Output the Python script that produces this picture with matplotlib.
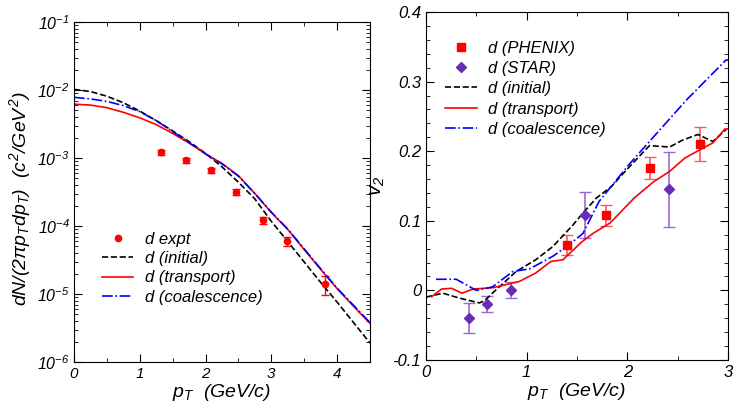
import numpy as np
import matplotlib
matplotlib.use('Agg')
import matplotlib.pyplot as plt
from matplotlib.lines import Line2D
from matplotlib.ticker import MultipleLocator, FuncFormatter, LogLocator

plt.rcParams['font.family'] = ['Liberation Sans', 'DejaVu Sans']
plt.rcParams['font.style'] = 'italic'
plt.rcParams['mathtext.fontset'] = 'custom'
plt.rcParams['mathtext.rm'] = 'Liberation Sans:italic'
plt.rcParams['mathtext.it'] = 'Liberation Sans:italic'
plt.rcParams['mathtext.sf'] = 'Liberation Sans:italic'

# ---------- left panel: spectra ----------
pt_curve = [0, 0.25, 0.5, 0.75, 1.0, 1.25, 1.5, 1.75, 2.0, 2.25, 2.5, 2.75,
            3.0, 3.25, 3.5, 3.75, 4.0, 4.25, 4.5]
sp_initial = [1.02e-2, 9.5e-3, 8.1e-3, 6.5e-3, 4.9e-3, 3.55e-3, 2.5e-3, 1.74e-3,
              1.17e-3, 7.4e-4, 4.4e-4, 2.5e-4, 1.17e-4, 5.9e-5, 2.95e-5,
              1.48e-5, 7.6e-6, 3.8e-6, 1.9e-6]
sp_transport = [6.2e-3, 6.0e-3, 5.5e-3, 4.7e-3, 3.9e-3, 3.1e-3, 2.3e-3, 1.66e-3,
                1.15e-3, 8.3e-4, 5.5e-4, 3.0e-4, 1.58e-4, 8.9e-5, 4.5e-5,
                2.3e-5, 1.2e-5, 6.6e-6, 3.7e-6]
sp_coal = [7.8e-3, 7.4e-3, 6.8e-3, 5.9e-3, 4.8e-3, 3.55e-3, 2.45e-3, 1.68e-3,
           1.15e-3, 8.2e-4, 5.4e-4, 3.0e-4, 1.6e-4, 9.0e-5, 4.6e-5,
           2.35e-5, 1.22e-5, 6.8e-6, 3.8e-6]
pt_expt = [1.32, 1.70, 2.08, 2.47, 2.87, 3.24, 3.82]
sp_expt = [1.22e-3, 9.3e-4, 6.6e-4, 3.2e-4, 1.21e-4, 6.0e-5, 1.39e-5]
sp_expt_err = [1.1e-4, 8e-5, 6e-5, 3e-5, 1.5e-5, 9e-6, 4.2e-6]

# ---------- right panel: v2 ----------
pt_v2_initial = [0.0, 0.166, 0.33, 0.53, 0.58, 0.66, 0.894, 1.09, 1.26, 1.46, 1.57,
                 1.695, 1.84, 2.01, 2.22, 2.42, 2.55, 2.70, 2.85, 2.98]
v2_initial = [-0.0097, -0.004, -0.011, -0.018, -0.015, -0.004, 0.027, 0.044, 0.063,
              0.094, 0.113, 0.133, 0.149, 0.176, 0.208, 0.206, 0.216, 0.224, 0.214,
              0.231]
pt_v2_transport = [0.057, 0.155, 0.255, 0.355, 0.47, 0.67, 0.93, 1.09, 1.24, 1.36,
                   1.55, 1.66, 1.83, 2.07, 2.26, 2.42, 2.57, 2.72, 2.85, 2.97, 3.0]
v2_transport = [-0.009, 0.002, 0.003, -0.004, 0.002, 0.004, 0.013, 0.025, 0.0415,
                0.044, 0.070, 0.082, 0.097, 0.133, 0.156, 0.171, 0.190, 0.202,
                0.212, 0.232, 0.232]
pt_v2_coal = [0.10, 0.30, 0.50, 0.66, 0.86, 1.03, 1.26, 1.42, 1.56, 1.72, 2.0,
              2.22, 2.59, 2.98, 3.0]
v2_coal = [0.016, 0.016, 0.0, 0.005, 0.027, 0.031, 0.049, 0.0655, 0.082, 0.128,
           0.178, 0.214, 0.274, 0.331, 0.331]
pt_phenix = [1.40, 1.79, 2.23, 2.72]
v2_phenix = [0.0655, 0.108, 0.1757, 0.2106]
v2_phenix_err = [0.014, 0.015, 0.016, 0.024]
pt_star = [0.424, 0.609, 0.847, 1.58, 2.41]
v2_star = [-0.0394, -0.0197, 0.0004, 0.108, 0.1455]
v2_star_err = [0.022, 0.012, 0.012, 0.033, 0.054]

PURPLE = '#6a2db5'

fig = plt.figure(figsize=(7.34, 4.03), dpi=100)
axL = fig.add_axes([0.1008, 0.1017, 0.4033, 0.8437])
axR = fig.add_axes([0.5804, 0.1067, 0.4114, 0.8635])

for ax in (axL, axR):
    ax.tick_params(which='both', direction='in', top=True, right=True, labelsize=11)
    ax.tick_params(which='major', length=6)
    ax.tick_params(which='minor', length=3)

# left
axL.errorbar(pt_expt, sp_expt, yerr=sp_expt_err, fmt='o', color='red', ms=4.5,
             capsize=3, elinewidth=1)
axL.plot(pt_curve, sp_initial, '--', color='black', lw=1.2)
axL.plot(pt_curve, sp_transport, '-', color='red', lw=1.2)
axL.plot(pt_curve, sp_coal, '-.', color='blue', lw=1.2)
axL.set_yscale('log')
axL.set_xlim(0, 4.5)
axL.set_ylim(1e-6, 1e-1)
axL.xaxis.set_major_locator(MultipleLocator(1))
axL.xaxis.set_minor_locator(MultipleLocator(0.5))
axL.yaxis.set_major_locator(LogLocator(base=10, numticks=10))
axL.yaxis.set_minor_locator(LogLocator(base=10, subs=np.arange(2, 10), numticks=10))
axL.yaxis.set_major_formatter(FuncFormatter(lambda v, p: r'$10^{%d}$' % round(np.log10(v))))
axL.tick_params(axis='y', labelsize=11.5, pad=3)
axL.set_xlabel(r'$p_T$  (GeV/c)', fontsize=14, labelpad=1)
axL.set_ylabel(r'$dN/(2\pi p_T dp_T)$  $(c^2/GeV^2)$', fontsize=14)
axL.yaxis.set_label_coords(-0.14, 0.48)
hL = [Line2D([], [], ls='none', marker='o', color='red', ms=4.5),
      Line2D([], [], ls='--', color='black', lw=1.2),
      Line2D([], [], ls='-', color='red', lw=1.2),
      Line2D([], [], ls='-.', color='blue', lw=1.2)]
axL.legend(hL, ['d expt', 'd (initial)', 'd (transport)', 'd (coalescence)'],
           loc='upper left', bbox_to_anchor=(0.094, 0.383), frameon=False, fontsize=12,
           numpoints=1, handlelength=1.9, handletextpad=0.7, labelspacing=0.26,
           borderpad=0, borderaxespad=0)

# right
axR.errorbar(pt_phenix, v2_phenix, yerr=v2_phenix_err, fmt='s', color='red', ms=5.5,
             ecolor='#ff5a5a', capsize=4, elinewidth=1.2)
axR.errorbar(pt_star, v2_star, yerr=v2_star_err, fmt='D', color=PURPLE, ms=5,
             ecolor='#9a6ad0', capsize=4, elinewidth=1.2)
axR.plot(pt_v2_initial, v2_initial, '--', color='black', lw=1.2)
axR.plot(pt_v2_transport, v2_transport, '-', color='red', lw=1.2)
axR.plot(pt_v2_coal, v2_coal, '-.', color='blue', lw=1.2)
axR.set_xlim(0, 3)
axR.set_ylim(-0.1, 0.4)
axR.xaxis.set_major_locator(MultipleLocator(1))
axR.xaxis.set_minor_locator(MultipleLocator(0.5))
axR.yaxis.set_major_locator(MultipleLocator(0.1))
axR.yaxis.set_minor_locator(MultipleLocator(0.02))
axR.yaxis.set_major_formatter(FuncFormatter(lambda v, p: '0' if abs(v) < 1e-9 else '%.1f' % v))
axR.tick_params(labelsize=12)
axR.set_xlabel(r'$p_T$  (GeV/c)', fontsize=14, labelpad=1)
axR.set_ylabel(r'$v_2$', fontsize=15, labelpad=4)
hR = [Line2D([], [], ls='none', marker='s', color='red', ms=5.5),
      Line2D([], [], ls='none', marker='D', color=PURPLE, ms=5),
      Line2D([], [], ls='--', color='black', lw=1.2),
      Line2D([], [], ls='-', color='red', lw=1.2),
      Line2D([], [], ls='-.', color='blue', lw=1.2)]
axR.legend(hR, ['d (PHENIX)', 'd (STAR)', 'd (initial)', 'd (transport)', 'd (coalescence)'],
           loc='upper left', bbox_to_anchor=(0.063, 0.918), frameon=False, fontsize=12,
           numpoints=1, handlelength=1.9, handletextpad=0.7, labelspacing=0.32,
           borderpad=0, borderaxespad=0)

fig.savefig('out.png', dpi=100)
